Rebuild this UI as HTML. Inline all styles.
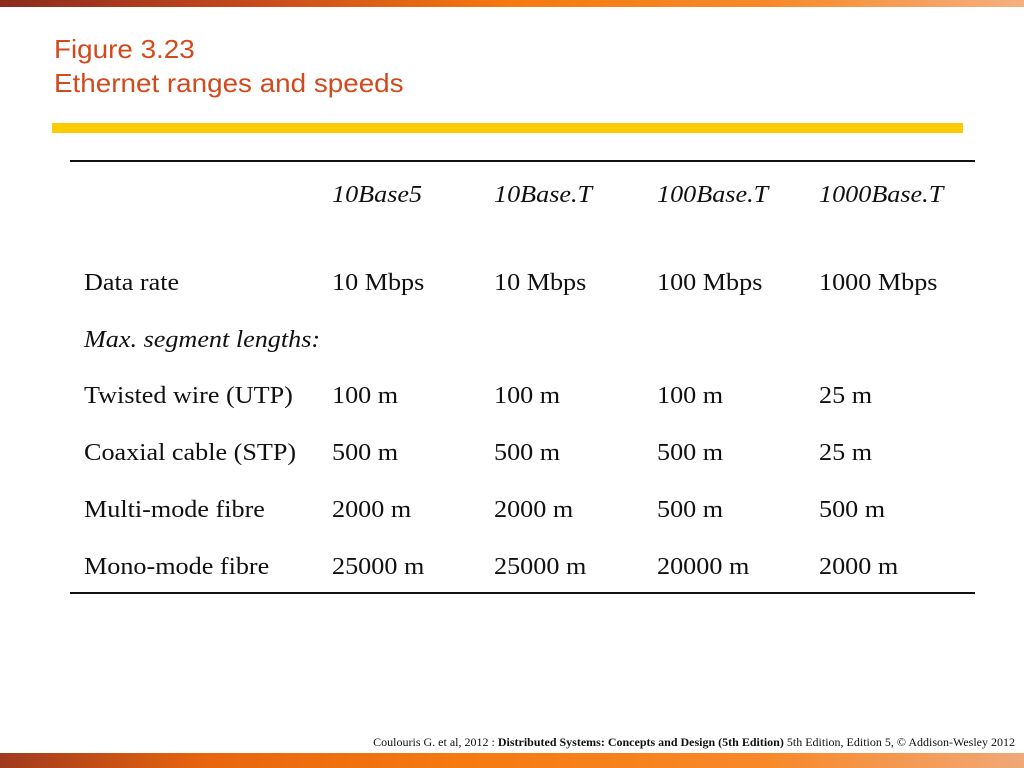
<!DOCTYPE html>
<html><head><meta charset="utf-8"><style>
body{margin:0;width:1024px;height:768px;position:relative;background:#fff;overflow:hidden;font-family:"Liberation Serif",serif}
.a{position:absolute;white-space:nowrap}
.t{font-size:24px;color:#111;line-height:26px;transform:scaleX(1.09);transform-origin:left}
</style></head><body>
<div class="a" style="left:0;top:0;width:1024px;height:7px;background:linear-gradient(90deg,#8b2a1e,#c84a1c 25%,#f57a10 50%,#f7892a 75%,#f5b080)"></div>
<div class="a" style="left:0;top:753px;width:1024px;height:15px;background:linear-gradient(90deg,#a03a1e,#e8650e 20%,#f57a10 45%,#f7892a 75%,#f0a878)"></div>
<div class="a" style="left:54px;top:32px;font-family:'Liberation Sans',sans-serif;font-size:26px;line-height:34px;color:#d24a1c;transform:scaleX(1.07);transform-origin:left">Figure 3.23<br>Ethernet ranges and speeds</div>
<div class="a" style="left:52px;top:123px;width:911px;height:10px;background:#fccc00"></div>
<div class="a" style="left:70px;top:160px;width:905px;height:2px;background:#111"></div>
<div class="a" style="left:70px;top:592px;width:905px;height:2px;background:#111"></div>
<div id="tbl"></div>
<div class="a" style="right:9px;top:735px;font-size:12px;color:#111">Coulouris G. et al, 2012 : <b>Distributed Systems: Concepts and Design (5th Edition)</b> 5th Edition, Edition 5, © Addison-Wesley 2012</div>
<script>
const cols=[84,332,494,657,819];
const rows=[
 {y:195,c:["","10Base5","10Base.T","100Base.T","1000Base.T"],i:true,n:"header-row"},
 {y:283,c:["Data rate","10 Mbps","10 Mbps","100 Mbps","1000 Mbps"],n:"data-rate-row"},
 {y:340,c:["Max. segment lengths:"],i:true,n:"segment-heading"},
 {y:396,c:["Twisted wire (UTP)","100 m","100 m","100 m","25 m"],n:"utp-row"},
 {y:453,c:["Coaxial cable (STP)","500 m","500 m","500 m","25 m"],n:"stp-row"},
 {y:510,c:["Multi-mode fibre","2000 m","2000 m","500 m","500 m"],n:"multimode-row"},
 {y:567,c:["Mono-mode fibre","25000 m","25000 m","20000 m","2000 m"],n:"monomode-row"}];
const t=document.getElementById('tbl');
rows.forEach(r=>{r.c.forEach((s,k)=>{if(!s)return;const d=document.createElement('div');
d.className='a t';d.style.left=cols[k]+'px';d.style.top=(r.y-13)+'px';
if(r.i)d.style.fontStyle='italic';d.textContent=s;


t.appendChild(d);});});
</script>
</body></html>
